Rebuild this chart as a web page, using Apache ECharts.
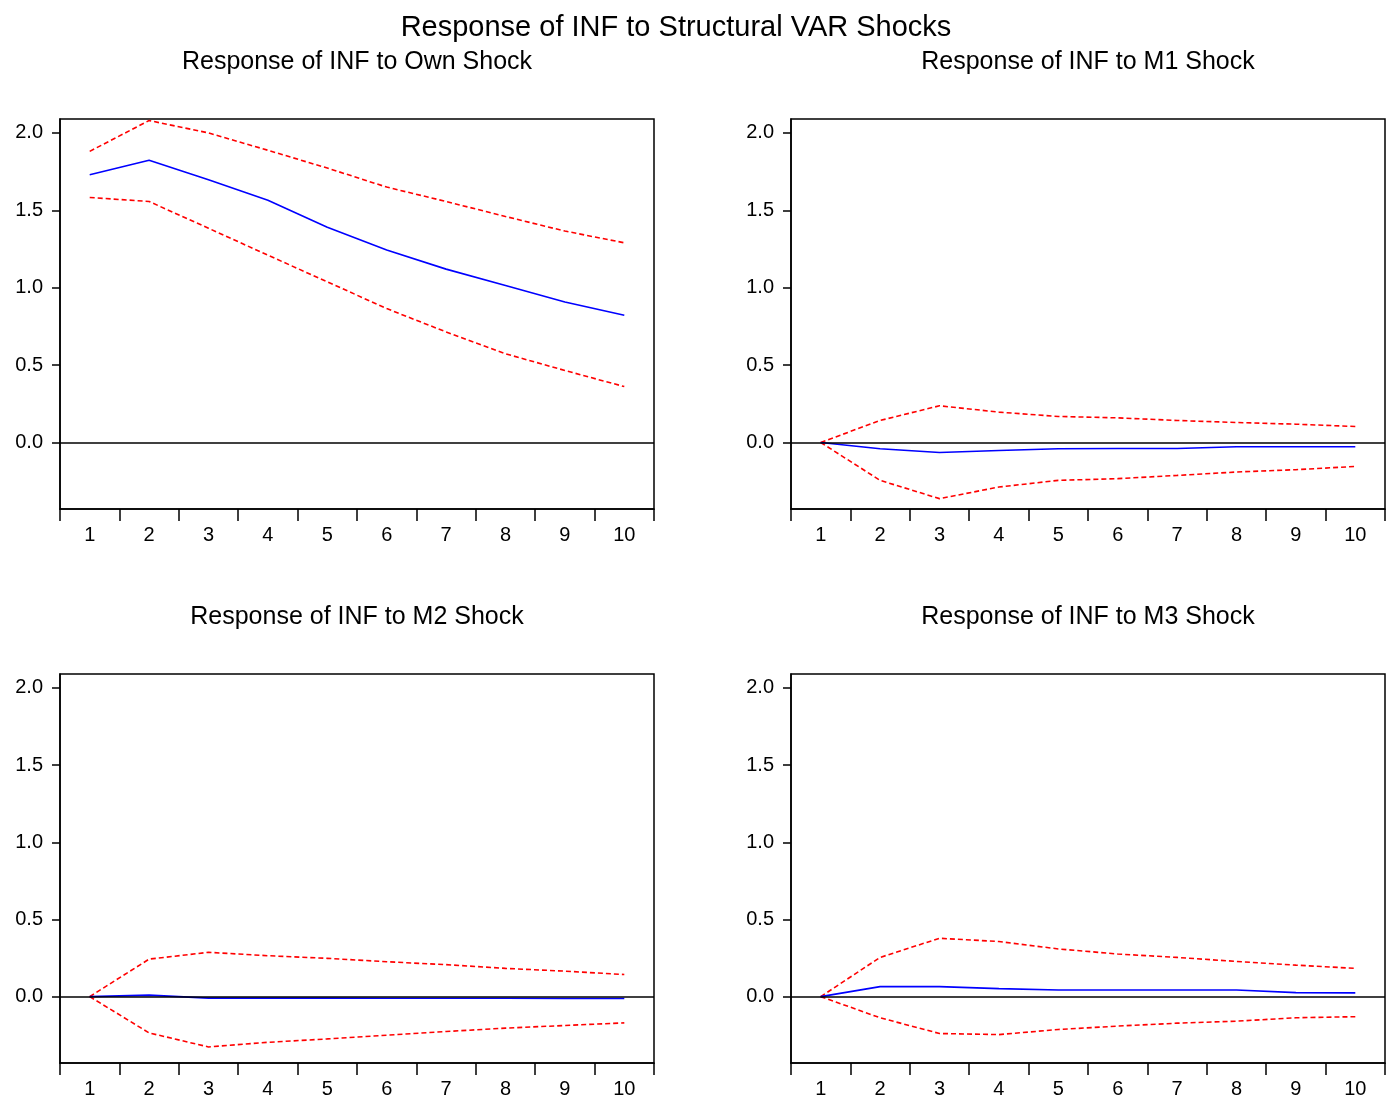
<!DOCTYPE html>
<html>
<head>
<meta charset="utf-8">
<script src="https://cdn.jsdelivr.net/npm/echarts@6/dist/echarts.min.js"></script>
<style>
  html, body { margin: 0; padding: 0; background: #fff; }
  #chart { width: 1394px; height: 1099px; }
</style>
</head>
<body>
<div id="chart"></div>
<script>
// periods on the x axis
var periods = ["1", "2", "3", "4", "5", "6", "7", "8", "9", "10"];
var yTicks = [0, 0.5, 1.0, 1.5, 2.0];

// own shock
var ownResp = [1.73, 1.823, 1.697, 1.565, 1.39, 1.243, 1.12, 1.014, 0.908, 0.822];
var ownUpper = [1.881, 2.08, 2.0, 1.888, 1.773, 1.65, 1.557, 1.46, 1.366, 1.29];
var ownLower = [1.583, 1.557, 1.384, 1.21, 1.038, 0.865, 0.714, 0.573, 0.465, 0.361];

// M1 shock
var m1Resp = [0, -0.041, -0.065, -0.052, -0.041, -0.039, -0.039, -0.028, -0.028, -0.028];
var m1Upper = [0, 0.142, 0.237, 0.196, 0.168, 0.159, 0.142, 0.129, 0.118, 0.103];
var m1Lower = [0, -0.245, -0.363, -0.288, -0.245, -0.234, -0.213, -0.191, -0.176, -0.155];

// M2 shock
var m2Resp = [0, 0.01, -0.01, -0.01, -0.01, -0.011, -0.011, -0.011, -0.012, -0.012];
var m2Upper = [0, 0.243, 0.287, 0.265, 0.248, 0.226, 0.207, 0.183, 0.165, 0.143];
var m2Lower = [0, -0.235, -0.326, -0.296, -0.274, -0.25, -0.226, -0.204, -0.187, -0.17];

// M3 shock
var m3Resp = [0, 0.065, 0.065, 0.052, 0.043, 0.043, 0.043, 0.043, 0.026, 0.024];
var m3Upper = [0, 0.254, 0.378, 0.357, 0.309, 0.276, 0.254, 0.228, 0.204, 0.183];
var m3Lower = [0, -0.137, -0.239, -0.246, -0.213, -0.191, -0.172, -0.159, -0.137, -0.13];

var panels = [
  { title: "Response of INF to Own Shock", resp: ownResp, up: ownUpper, low: ownLower },
  { title: "Response of INF to M1 Shock", resp: m1Resp, up: m1Upper, low: m1Lower },
  { title: "Response of INF to M2 Shock", resp: m2Resp, up: m2Upper, low: m2Lower },
  { title: "Response of INF to M3 Shock", resp: m3Resp, up: m3Upper, low: m3Lower }
];

var FONT = "'Liberation Sans', Arial, sans-serif";
var gridPos = [
  { left: 60, top: 119 },
  { left: 791, top: 119 },
  { left: 60, top: 674 },
  { left: 791, top: 674 }
];

var chart = echarts.init(document.getElementById("chart"));

var titles = [{
  text: "Response of INF to Structural VAR Shocks",
  left: 671, top: 8, textAlign: "center",
  textStyle: { fontFamily: FONT, fontSize: 29, fontWeight: "normal", color: "#000" }
}];
var grids = [], xAxes = [], yAxes = [], series = [];

panels.forEach(function (p, i) {
  var g = gridPos[i];
  titles.push({
    text: p.title,
    left: g.left + 292, top: g.top - 74, textAlign: "center",
    textStyle: { fontFamily: FONT, fontSize: 25, fontWeight: "normal", color: "#000" }
  });
  grids.push({
    left: g.left, top: g.top, width: 594, height: 390,
    show: true, borderColor: "#000", borderWidth: 1.5, backgroundColor: "#fff"
  });
  xAxes.push({
    type: "category", gridIndex: i, data: periods, boundaryGap: true,
    axisLine: { onZero: false, lineStyle: { color: "#000", width: 1.5 } },
    axisTick: { show: true, length: 12, interval: 0, lineStyle: { color: "#000", width: 1.5 } },
    axisLabel: { margin: 16, fontFamily: FONT, fontSize: 20, color: "#000", interval: 0 },
    splitLine: { show: false }
  });
  yAxes.push({
    type: "value", gridIndex: i, min: -0.43, max: 2.09,
    axisLine: { show: true, lineStyle: { color: "#000", width: 1.5 } },
    axisTick: { show: true, length: 8, customValues: yTicks, lineStyle: { color: "#000", width: 1.5 } },
    axisLabel: {
      customValues: yTicks, margin: 17, fontFamily: FONT, fontSize: 20, color: "#000",
      formatter: function (v) { return v.toFixed(1); }
    },
    splitLine: { show: false }
  });
  series.push({
    type: "line", xAxisIndex: i, yAxisIndex: i, data: p.up, symbol: "none",
    lineStyle: { color: "#ff0000", width: 1.6, type: [5, 3] }, z: 3,
    markLine: {
      silent: true, symbol: "none", label: { show: false },
      lineStyle: { color: "#000", width: 1.5, type: "solid" },
      data: [{ yAxis: 0 }]
    }
  });
  series.push({
    type: "line", xAxisIndex: i, yAxisIndex: i, data: p.low, symbol: "none",
    lineStyle: { color: "#ff0000", width: 1.6, type: [5, 3] }, z: 3
  });
  series.push({
    type: "line", xAxisIndex: i, yAxisIndex: i, data: p.resp, symbol: "none",
    lineStyle: { color: "#0000ff", width: 1.6 }, z: 4
  });
});

chart.setOption({
  backgroundColor: "#fff",
  animation: false,
  title: titles,
  grid: grids,
  xAxis: xAxes,
  yAxis: yAxes,
  series: series
});
</script>
</body>
</html>
